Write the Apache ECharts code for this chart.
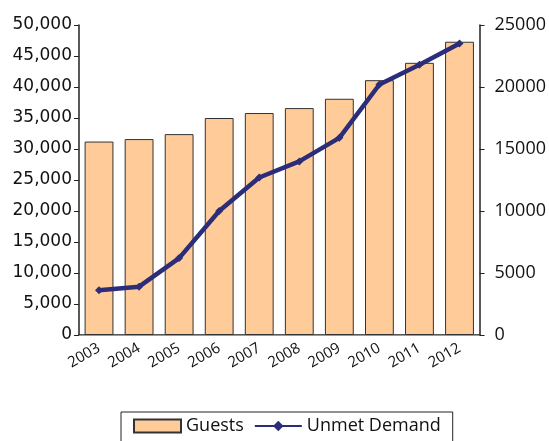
<!DOCTYPE html>
<html>
<head>
<meta charset="utf-8">
<script src="https://cdn.jsdelivr.net/npm/echarts@6/dist/echarts.min.js"></script>
<style>
  html, body { margin: 0; padding: 0; background: #fff; }
  #chart { width: 549px; height: 441px; }
</style>
</head>
<body>
<div id="chart"></div>
<script>
// values
const years = ['2003', '2004', '2005', '2006', '2007', '2008', '2009', '2010', '2011', '2012']
const guests = [31200, 31600, 32400, 35000, 35800, 36600, 38100, 41100, 43900, 47300]
const unmetDemand = [3600, 3900, 6200, 10000, 12700, 14000, 15900, 20200, 21800, 23500]

const sansFont = '"Open Sans", "DejaVu Sans", sans-serif'
const leftFont = '"DejaVu Sans", sans-serif'
const axisColor = '#222'

const chart = echarts.init(document.getElementById('chart'))

chart.setOption({
  animation: false,
  textStyle: { fontFamily: sansFont },
  grid: { left: 79, right: 69, top: 25, bottom: 106, containLabel: false },
  legend: {
    top: 412,
    left: 121,
    itemWidth: 47,
    itemHeight: 13,
    itemGap: 10,
    padding: [5, 12, 12, 12],
    borderColor: '#222',
    borderWidth: 1,
    textStyle: { fontSize: 18, color: '#111', fontFamily: sansFont },
    data: [
      { name: 'Guests', icon: 'rect' },
      { name: 'Unmet Demand' }
    ]
  },
  xAxis: [
    {
      type: 'category',
      data: years,
      boundaryGap: true,
      axisLine: { lineStyle: { color: axisColor, width: 1.5 } },
      axisTick: { alignWithLabel: false, length: 5, lineStyle: { color: axisColor } },
      axisLabel: { interval: 0, rotate: 30, fontSize: 15, color: '#111', margin: 12 }
    },
    {
      type: 'category',
      data: years,
      position: 'top',
      axisLine: { lineStyle: { color: '#999', width: 1 } },
      axisTick: { show: false },
      axisLabel: { show: false }
    }
  ],
  yAxis: [
    {
      type: 'value',
      min: 0,
      max: 50000,
      interval: 5000,
      position: 'left',
      axisLine: { show: true, lineStyle: { color: axisColor, width: 1.5 } },
      axisTick: { show: true, length: 5, lineStyle: { color: axisColor } },
      splitLine: { show: false },
      axisLabel: {
        fontSize: 17,
        fontFamily: leftFont,
        color: '#111',
        margin: 7,
        formatter: v => v.toLocaleString('en-US')
      }
    },
    {
      type: 'value',
      min: 0,
      max: 25000,
      interval: 5000,
      position: 'right',
      axisLine: { show: true, lineStyle: { color: axisColor, width: 1.5 } },
      axisTick: { show: true, length: 5, lineStyle: { color: axisColor } },
      splitLine: { show: false },
      axisLabel: { fontSize: 18, color: '#111', margin: 15, formatter: v => String(v) }
    }
  ],
  series: [
    {
      name: 'Guests',
      type: 'bar',
      yAxisIndex: 0,
      barCategoryGap: '28%',
      itemStyle: { color: '#FFCC99', borderColor: '#333', borderWidth: 1 },
      data: guests
    },
    {
      name: 'Unmet Demand',
      type: 'line',
      yAxisIndex: 1,
      symbol: 'diamond',
      symbolSize: 8,
      lineStyle: { color: '#2B2D78', width: 4.5 },
      itemStyle: { color: '#2B2D78' },
      data: unmetDemand
    }
  ]
})
</script>
</body>
</html>
